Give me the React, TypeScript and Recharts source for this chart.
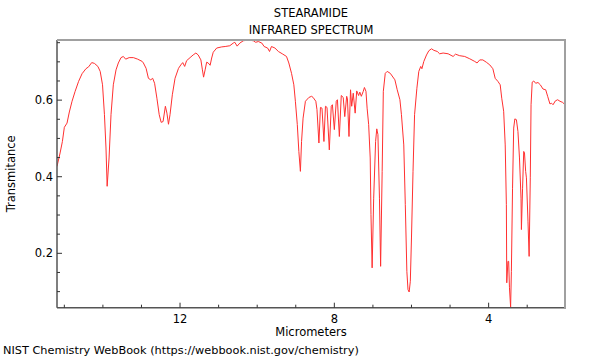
import { LineChart, Line, XAxis, YAxis } from "recharts";

const WAVELENGTH = [
  15.19, 15.11, 15.05, 15.0, 14.93, 14.87, 14.8, 14.72, 14.63, 14.54, 14.44, 14.37, 14.29, 14.22,
  14.13, 14.07, 14.01, 13.96, 13.92, 13.89, 13.84, 13.79, 13.73, 13.66, 13.6, 13.53, 13.47, 13.41,
  13.32, 13.21, 13.1, 12.98, 12.95, 12.88, 12.82, 12.76, 12.71, 12.66, 12.6, 12.54, 12.49, 12.44,
  12.38, 12.34, 12.3, 12.26, 12.2, 12.13, 12.04, 11.98, 11.93, 11.88, 11.83, 11.74, 11.66, 11.59,
  11.53, 11.46, 11.42, 11.39, 11.35, 11.31, 11.27, 11.22, 11.18, 11.14, 11.05, 10.92, 10.83, 10.71,
  10.62, 10.58, 10.52, 10.45, 10.36, 10.23, 10.1, 10.04, 9.97, 9.88, 9.82, 9.73, 9.68, 9.63, 9.54,
  9.45, 9.35, 9.24, 9.18, 9.11, 9.05, 9.01, 8.96, 8.92, 8.88, 8.85, 8.81, 8.75, 8.66, 8.59, 8.55,
  8.48, 8.45, 8.4, 8.36, 8.32, 8.27, 8.23, 8.19, 8.13, 8.08, 8.05, 8.0, 7.95, 7.92, 7.87, 7.82,
  7.77, 7.73, 7.68, 7.66, 7.62, 7.58, 7.55, 7.51, 7.46, 7.42, 7.37, 7.34, 7.3, 7.25, 7.22, 7.18,
  7.15, 7.11, 7.07, 7.05, 7.02, 6.98, 6.93, 6.9, 6.87, 6.83, 6.8, 6.76, 6.73, 6.68, 6.63, 6.55,
  6.43, 6.37, 6.3, 6.26, 6.2, 6.16, 6.12, 6.09, 6.06, 6.03, 6.0, 5.96, 5.92, 5.86, 5.81, 5.76,
  5.73, 5.68, 5.61, 5.55, 5.48, 5.42, 5.33, 5.27, 5.18, 5.05, 4.92, 4.86, 4.75, 4.62, 4.49, 4.36,
  4.3, 4.23, 4.15, 4.06, 3.97, 3.89, 3.83, 3.76, 3.7, 3.66, 3.61, 3.57, 3.54, 3.53, 3.5, 3.48,
  3.46, 3.43, 3.41, 3.38, 3.35, 3.32, 3.28, 3.24, 3.2, 3.16, 3.15, 3.12, 3.09, 3.07, 3.04, 3.02,
  2.98, 2.95, 2.92, 2.9, 2.87, 2.83, 2.78, 2.72, 2.66, 2.59, 2.52, 2.47, 2.41, 2.37, 2.33, 2.27,
  2.21, 2.15, 2.08, 2.02,
];

const TRANSMITTANCE = [
  0.427, 0.462, 0.492, 0.529, 0.54, 0.569, 0.597, 0.623, 0.649, 0.669, 0.682, 0.687, 0.698, 0.696,
  0.688, 0.675, 0.64, 0.562, 0.475, 0.375, 0.449, 0.562, 0.64, 0.679, 0.697, 0.711, 0.714, 0.707,
  0.711, 0.711, 0.707, 0.701, 0.697, 0.683, 0.657, 0.653, 0.657, 0.644, 0.605, 0.562, 0.542, 0.544,
  0.584, 0.566, 0.537, 0.562, 0.614, 0.657, 0.683, 0.692, 0.698, 0.688, 0.703, 0.711, 0.718, 0.723,
  0.718, 0.705, 0.679, 0.66, 0.679, 0.699, 0.697, 0.691, 0.71, 0.725, 0.736, 0.739, 0.74, 0.742,
  0.749, 0.751, 0.741, 0.749, 0.755, 0.757, 0.755, 0.751, 0.753, 0.749, 0.74, 0.736, 0.727, 0.74, 0.736,
  0.727, 0.721, 0.714, 0.697, 0.67, 0.64, 0.597, 0.536, 0.466, 0.414, 0.492, 0.553, 0.597, 0.607, 0.61, 0.607,
  0.597, 0.575, 0.488, 0.581, 0.579, 0.492, 0.584, 0.581, 0.47, 0.584, 0.588, 0.523, 0.597, 0.601, 0.505, 0.612,
  0.607, 0.557, 0.61, 0.603, 0.505, 0.627, 0.584, 0.618, 0.566, 0.624, 0.612, 0.621, 0.61, 0.623, 0.633, 0.623,
  0.579, 0.536, 0.449, 0.301, 0.162, 0.344, 0.492, 0.525, 0.51, 0.344, 0.166, 0.414, 0.623, 0.67, 0.675, 0.67,
  0.653, 0.627, 0.601, 0.562, 0.483, 0.327, 0.153, 0.105, 0.099, 0.127, 0.24, 0.414, 0.562, 0.631, 0.675, 0.688,
  0.682, 0.701, 0.718, 0.729, 0.734, 0.73, 0.727, 0.721, 0.723, 0.721, 0.714, 0.72, 0.716, 0.714, 0.708, 0.701,
  0.697, 0.705, 0.705, 0.699, 0.692, 0.682, 0.657, 0.649, 0.64, 0.605, 0.571, 0.483, 0.327, 0.123, 0.179, 0.179,
  0.11, 0.06, 0.153, 0.37, 0.527, 0.551, 0.549, 0.518, 0.449, 0.344, 0.262, 0.37, 0.466, 0.462, 0.414, 0.397,
  0.284, 0.192, 0.397, 0.588, 0.647, 0.65, 0.644, 0.646, 0.64, 0.629, 0.627, 0.61, 0.59, 0.592, 0.588, 0.598,
  0.601, 0.597, 0.594, 0.588,
];

const X_TICKS = [15, 14, 13, 12, 11, 10, 9, 8, 7, 6, 5, 4, 3];
const X_LABELS = [12, 8, 4];
const Y_TICKS = [0.1, 0.15, 0.2, 0.25, 0.3, 0.35, 0.4, 0.45, 0.5, 0.55, 0.6, 0.65, 0.7, 0.75];
const Y_LABELS = [0.2, 0.4, 0.6];

const FONT = '"DejaVu Sans", sans-serif';
const FS = 11.5;

const data = WAVELENGTH.map((w, i) => ({ w, t: TRANSMITTANCE[i] }));

const XTick = ({ x, y, payload }: any) => {
  const major = X_LABELS.includes(payload.value);
  return (
    <g>
      <line x1={x} x2={x} y1={y} y2={y - (major ? 5 : 3)} stroke="#333" />
      {major && (
        <text x={x} y={y + 15} textAnchor="middle" fontSize={FS} fontFamily={FONT} fill="#000">
          {payload.value}
        </text>
      )}
    </g>
  );
};

const YTick = ({ x, y, payload }: any) => {
  const major = Y_LABELS.some((v) => Math.abs(v - payload.value) < 1e-6);
  return (
    <g>
      <line x1={x} x2={x + (major ? 5 : 3)} y1={y} y2={y} stroke="#333" />
      {major && (
        <text x={x - 4} y={y + 4} textAnchor="end" fontSize={FS} fontFamily={FONT} fill="#000">
          {payload.value.toFixed(1)}
        </text>
      )}
    </g>
  );
};

export default function App() {
  return (
    <div
      style={{
        position: "absolute",
        left: 0,
        top: 0,
        width: 600,
        height: 360,
        background: "#fff",
        fontFamily: FONT,
        fontSize: FS,
        color: "#000",
      }}
    >
      <div style={{ position: "absolute", top: 6, width: 622, textAlign: "center" }}>STEARAMIDE</div>
      <div style={{ position: "absolute", top: 23, width: 622, textAlign: "center" }}>INFRARED SPECTRUM</div>
      <LineChart width={600} height={360} data={data} margin={{ top: 40, right: 35, bottom: 0, left: 0 }}>
        <XAxis
          dataKey="w"
          type="number"
          domain={[2.02, 15.19]}
          reversed
          allowDataOverflow
          ticks={X_TICKS}
          interval={0}
          tickSize={0}
          tickMargin={0}
          tickLine={false}
          tick={<XTick />}
          height={52.3}
          axisLine={{ stroke: "#555", strokeWidth: 1.5 }}
          label={{
            content: ({ viewBox }: any) => (
              <text
                x={viewBox.x + viewBox.width / 2}
                y={336}
                textAnchor="middle"
                fontSize={FS}
                fontFamily={FONT}
                fill="#000"
              >
                Micrometers
              </text>
            ),
          }}
        />
        <YAxis
          type="number"
          domain={[0.058, 0.757]}
          allowDataOverflow
          ticks={Y_TICKS}
          interval={0}
          tickSize={0}
          tickMargin={0}
          tickLine={false}
          tick={<YTick />}
          width={57}
          axisLine={{ stroke: "#555", strokeWidth: 1.5 }}
          label={{
            content: ({ viewBox }: any) => {
              const cy = viewBox.y + viewBox.height / 2;
              return (
                <text
                  x={15}
                  y={cy}
                  transform={`rotate(-90, 15, ${cy})`}
                  textAnchor="middle"
                  fontSize={FS}
                  fontFamily={FONT}
                  fill="#000"
                >
                  Transmitance
                </text>
              );
            },
          }}
        />
        <Line
          dataKey="t"
          type="linear"
          stroke="#ff3030"
          strokeWidth={1}
          dot={false}
          activeDot={false}
          isAnimationActive={false}
        />
      </LineChart>
      {/* top and right frame of the plot box */}
      <div
        style={{
          position: "absolute",
          left: 57,
          top: 39,
          width: 507,
          height: 268,
          borderTop: "2px solid #a0a0a0",
          borderRight: "2px solid #a0a0a0",
          pointerEvents: "none",
        }}
      />
      <div style={{ position: "absolute", left: 3, top: 344, whiteSpace: "nowrap", fontSize: 11.3 }}>
        NIST Chemistry WebBook (https://webbook.nist.gov/chemistry)
      </div>
    </div>
  );
}
